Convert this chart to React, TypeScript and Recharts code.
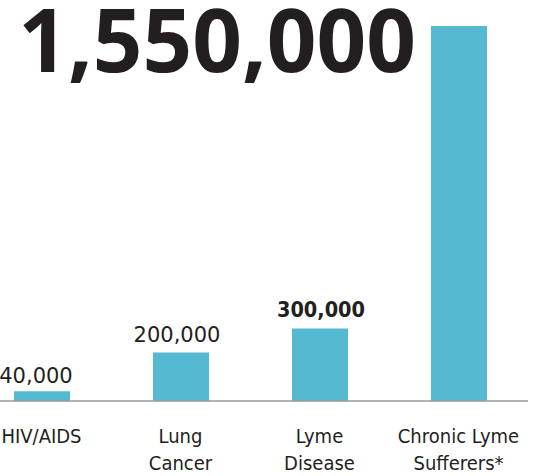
import React from "react";
import { BarChart, Bar, XAxis, YAxis, LabelList } from "recharts";

// Estimated number of people affected, by condition
const categories = ["HIV/AIDS", "Lung Cancer", "Lyme Disease", "Chronic Lyme Sufferers*"];
const tickLines = [["HIV/AIDS"], ["Lung", "Cancer"], ["Lyme", "Disease"], ["Chronic Lyme", "Sufferers*"]];
const cases = [40000, 200000, 300000, 1550000];

const data = categories.map((name, i) => ({ name, cases: cases[i], lines: tickLines[i] }));

const INK = "#231f20";
const BAR = "#56b9d2";
const fmt = (v: number) => v.toLocaleString("en-US");

// small hand-tuned nudges for the value labels [dx, gap above bar]
const labelNudge: [number, number][] = [
  [-6, 8],
  [-4, 11],
  [1, 11],
];

const ValueLabel = (props: any) => {
  const { x, y, width, index, value } = props;
  if (index === cases.length - 1) {
    // the headline figure sits to the left of its bar
    return (
      <text
        x={x - 15}
        y={y + 46}
        textAnchor="end"
        fill={INK}
        fontFamily="'Open Sans', sans-serif"
        fontWeight={700}
        fontSize={87}
      >
        {fmt(value)}
      </text>
    );
  }
  const [dx, gap] = labelNudge[index] || [0, 10];
  const bold = index === 2;
  return (
    <text
      x={x + width / 2 + dx}
      y={y - gap}
      textAnchor="middle"
      fill={INK}
      fontFamily={bold ? "'DejaVu Sans Condensed', 'DejaVu Sans', sans-serif" : "'DejaVu Sans', sans-serif"}
      fontWeight={bold ? 700 : 400}
      fontSize={bold ? 21.5 : 21}
    >
      {fmt(value)}
    </text>
  );
};

const CategoryTick = (props: any) => {
  const { x, y, index } = props;
  const lines = tickLines[index] || [];
  return (
    <g>
      {lines.map((ln: string, k: number) => (
        <text
          key={k}
          x={x}
          y={y + 42 + k * 27.3}
          textAnchor="middle"
          fill={INK}
          fontFamily="'DejaVu Sans Condensed', 'DejaVu Sans', sans-serif"
          fontSize={20}
        >
          {ln}
        </text>
      ))}
    </g>
  );
};

export default function App() {
  return (
    <div style={{ position: "absolute", left: -28, top: 0 }}>
      <BarChart
        width={556}
        height={476}
        data={data}
        margin={{ top: 26, right: 0, bottom: 0, left: 0 }}
      >
        <XAxis
          dataKey="name"
          height={75}
          interval={0}
          tickLine={false}
          tickSize={0}
          tickMargin={0}
          axisLine={{ stroke: "#9a9a9a", strokeWidth: 1.5 }}
          tick={<CategoryTick />}
        />
        <YAxis hide domain={[0, 1550000]} />
        <Bar dataKey="cases" fill={BAR} barSize={56} isAnimationActive={false}>
          <LabelList dataKey="cases" content={<ValueLabel />} />
        </Bar>
      </BarChart>
    </div>
  );
}
